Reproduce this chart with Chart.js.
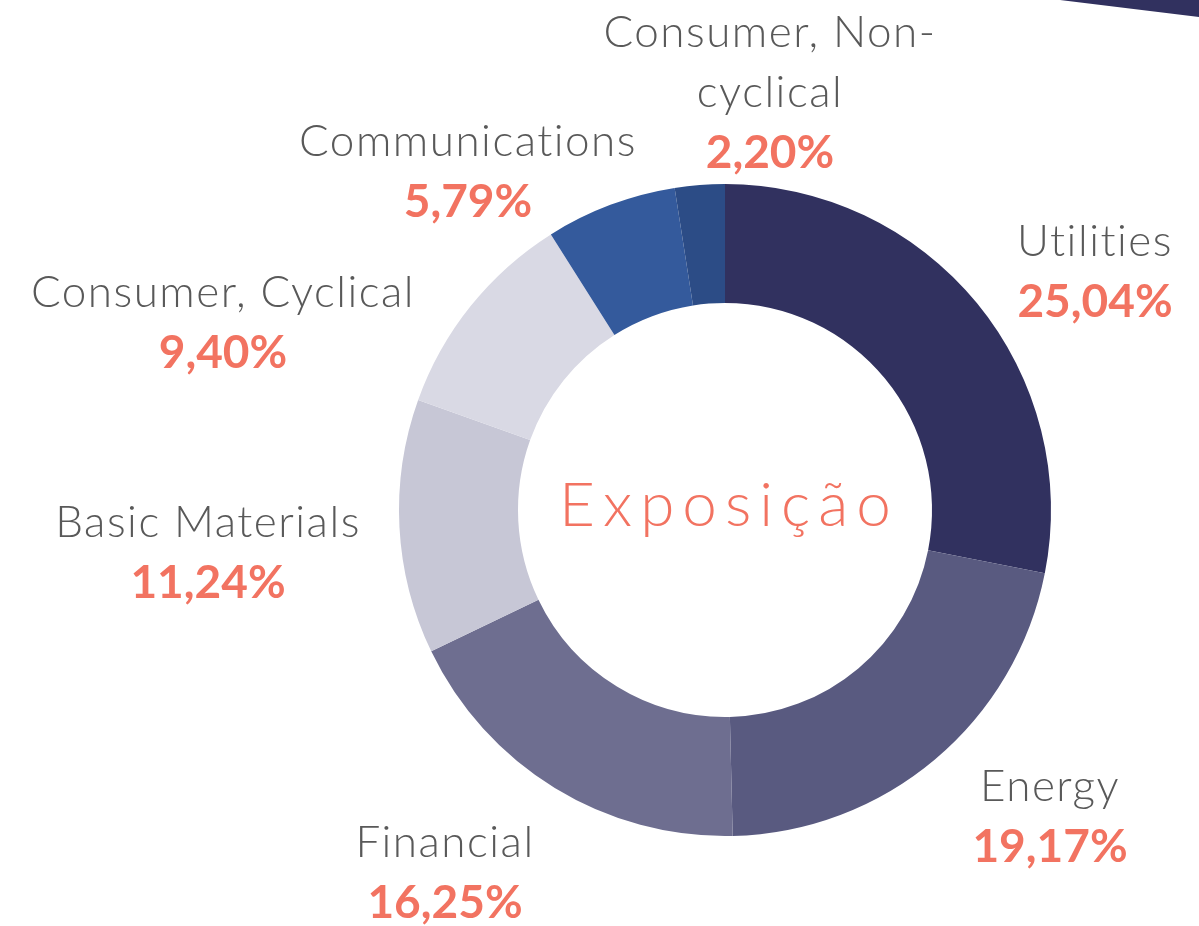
<!DOCTYPE html>
<html>
<head>
<meta charset="utf-8">
<script src="https://cdn.jsdelivr.net/npm/chart.js@4.4.1/dist/chart.umd.min.js"></script>
<style>
  body { margin: 0; background: #fff; }
  .grafico { width: 1199px; height: 926px; position: relative; }
</style>
</head>
<body>
<div class="grafico"><canvas id="GraficoExposicao"></canvas></div>
<script>
// dados do grafico
var setores = ['Utilities', 'Energy', 'Financial', 'Basic Materials', 'Consumer, Cyclical', 'Communications', ['Consumer, Non-', 'cyclical']];
var exposicao = [25.04, 19.17, 16.25, 11.24, 9.40, 5.79, 2.20];
var cores = ['#31315f', '#595a80', '#6e6e90', '#c7c7d6', '#d9d9e4', '#345a9c', '#2c4c86'];

// posicao dos rotulos (deslocamento a partir do centro da rosca)
var posRotulos = [[370, -268], [325, 277], [-280, 333], [-517, 13], [-502, -217], [-257, -368], [45, -477]];

var rotulos = {
    id: 'rotulos',
    beforeDraw: function (chart) {
        var ctx = chart.ctx;
        // faixa decorativa no canto
        ctx.save();
        ctx.fillStyle = '#31315f';
        ctx.beginPath();
        ctx.moveTo(1060, 0);
        ctx.lineTo(1199, 0);
        ctx.lineTo(1199, 17);
        ctx.closePath();
        ctx.fill();
        ctx.restore();
    },
    afterDraw: function (chart) {
        var ctx = chart.ctx;
        var arco = chart.getDatasetMeta(0).data[0];
        var cx = arco.x, cy = arco.y;
        ctx.save();
        ctx.textAlign = 'center';
        ctx.textBaseline = 'middle';

        setores.forEach(function (nome, i) {
            var linhas = Array.isArray(nome) ? nome : [nome];
            var x = cx + posRotulos[i][0];
            var y = cy + posRotulos[i][1];
            ctx.font = '300 44px Lato';
            ctx.fillStyle = '#595959';
            ctx.letterSpacing = '1.5px';
            linhas.forEach(function (l, j) {
                ctx.fillText(l, x, y + j * 60);
            });
            ctx.font = 'bold 46px Lato';
            ctx.fillStyle = '#f27361';
            ctx.letterSpacing = '0px';
            var txt = exposicao[i].toFixed(2).replace('.', ',') + '%';
            ctx.fillText(txt, x, y + linhas.length * 60);
        });

        // texto central
        ctx.font = '300 62px Lato';
        ctx.fillStyle = '#f27361';
        ctx.letterSpacing = '8px';
        ctx.fillText('Exposição', cx + 4, cy - 4);
        ctx.restore();
    }
};

var ctx = document.getElementById('GraficoExposicao').getContext('2d');

var grafico = new Chart(ctx, {
    type: 'doughnut',
    data:
    {
        labels: setores,
        datasets:
            [{
                label: 'Exposição',
                backgroundColor: cores,
                borderWidth: 0,
                hoverOffset: 0,
                data: exposicao
            }]
    },
    options:
    {
        responsive: true,
        maintainAspectRatio: false,
        animation: false,
        cutout: '63.5%',
        layout: { padding: { left: 399, right: 148, top: 184, bottom: 90 } },
        plugins: {
            legend: { display: false },
            tooltip: { enabled: false }
        }
    },
    plugins: [rotulos]
});
</script>
</body>
</html>
